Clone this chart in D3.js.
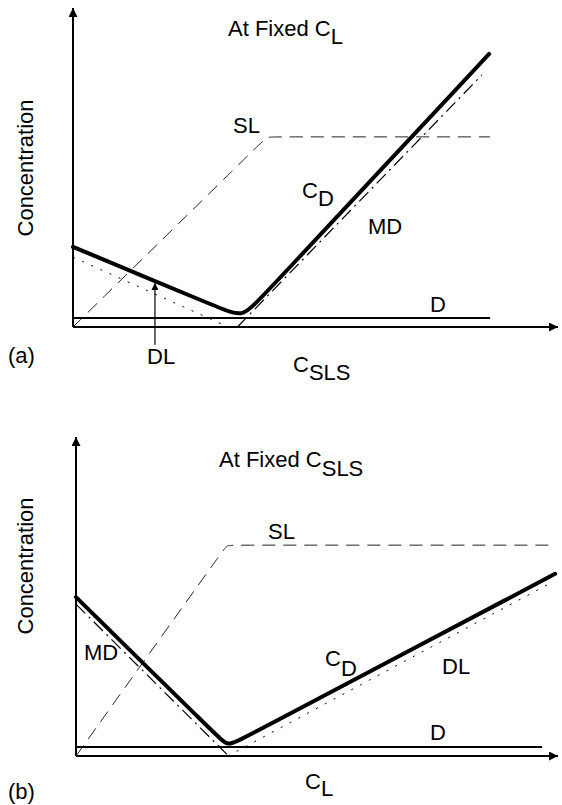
<html>
    <head>
        <title>Concentration sketch</title>
        <script src="https://d3js.org/d3.v7.min.js"></script>
    </head>

    <style>
        body {
        margin: 0;
        background: #fff;
        }

        svg {
        display: block;
        }

        text {
        font-family: Arial, 'Liberation Sans', Helvetica, sans-serif;
        font-size: 22px;
        fill: #000;
        }

        .axis {
        stroke: #000;
        stroke-width: 2;
        fill: none;
        }

        .cd {
        stroke: #000;
        stroke-width: 4;
        fill: none;
        stroke-linecap: round;
        }

        .d {
        stroke: #000;
        stroke-width: 2;
        fill: none;
        }

        .sl {
        stroke: #222;
        stroke-width: 1;
        stroke-dasharray: 13 8;
        fill: none;
        }

        .dl {
        stroke: #000;
        stroke-width: 1;
        stroke-dasharray: 2 8;
        fill: none;
        }

        .md {
        stroke: #000;
        stroke-width: 1.2;
        stroke-dasharray: 13 5 2 5;
        fill: none;
        }

        .pointer {
        stroke: #000;
        stroke-width: 1.2;
        fill: none;
        }
    </style>

    <body>
        <svg width="562" height="805"></svg>

    <script>
        // (a) at fixed C_L, curves vs C_SLS  (both axes 0..100, arbitrary units)
        const topCD = [[0, 25.1], [30.5, 5.8], [35.0, 3.0], [38.3, 8.3], [85.8, 85.6]];
        const topSL = [[0, 0], [39.0, 58.1], [40.0, 59.6], [41.6, 59.6], [86.0, 59.6]];
        const topD = [[0, 2.8], [86.0, 2.8]];
        const topDL = [[0, 21.9], [32.0, 0]];
        const topMD = [[33.9, 0], [84.3, 79.0]];
        const topPointer = [[16.9, -5.6], [16.9, 13.8]];

        // (b) at fixed C_SLS, curves vs C_L
        const botCD = [[0, 49.8], [29.5, 6.0], [31.5, 3.0], [34.4, 5.3], [99.4, 57.1]];
        const botSL = [[0, 0], [30.5, 64.4], [31.3, 66.1], [32.8, 66.1], [98.1, 66.1]];
        const botD = [[0, 2.8], [96.7, 2.8]];
        const botMD = [[0, 47.6], [32.0, -0.5]];
        const botDL = [[31.5, 0], [98.8, 54.5]];

        const svg = d3.select('svg');

        const defs = svg.append('defs');
        defs.append('marker')
        .attr('id', 'head')
        .attr('markerUnits', 'userSpaceOnUse')
        .attr('viewBox', '0 0 10 10')
        .attr('refX', 10)
        .attr('refY', 5)
        .attr('markerWidth', 11)
        .attr('markerHeight', 9)
        .attr('orient', 'auto')
        .append('path')
        .attr('d', 'M0,0L10,5L0,10Z')
        .attr('fill', '#000');

        defs.append('marker')
        .attr('id', 'smallhead')
        .attr('markerUnits', 'userSpaceOnUse')
        .attr('viewBox', '0 0 10 10')
        .attr('refX', 10)
        .attr('refY', 5)
        .attr('markerWidth', 9)
        .attr('markerHeight', 7)
        .attr('orient', 'auto')
        .append('path')
        .attr('d', 'M0,0L10,5L0,10Z')
        .attr('fill', '#000');

        function panel(xRange, yRange) {
            const x = d3.scaleLinear().domain([0, 100]).range(xRange);
            const y = d3.scaleLinear().domain([0, 100]).range(yRange);
            const g = svg.append('g');

            const line = d3.line().x(d => x(d[0])).y(d => y(d[1]));
            const smooth = d3.line().x(d => x(d[0])).y(d => y(d[1])).curve(d3.curveBasis);

            // axes with arrow heads
            g.append('path')
            .attr('class', 'axis')
            .attr('d', line([[0, 0], [0, 100]]))
            .attr('marker-end', 'url(#head)');

            g.append('path')
            .attr('class', 'axis')
            .attr('d', line([[0, 0], [100, 0]]))
            .attr('marker-end', 'url(#head)');

            return { x, y, g, line, smooth };
        }

        function label(g, px, py, main, sub, subDy) {
            const t = g.append('text')
            .attr('x', px)
            .attr('y', py);
            t.append('tspan').text(main);
            if (sub) {
                t.append('tspan').attr('dy', subDy || 8).text(sub);
            }
            return t;
        }

        // ---- panel (a)
        const a = panel([73, 558], [327, 8]);

        a.g.append('path').attr('class', 'sl').attr('d', a.smooth(topSL));
        a.g.append('path').attr('class', 'dl').attr('d', a.line(topDL));
        a.g.append('path').attr('class', 'md').attr('d', a.line(topMD));
        a.g.append('path').attr('class', 'd').attr('d', a.line(topD));
        a.g.append('path').attr('class', 'cd').attr('d', a.smooth(topCD));
        a.g.append('path')
        .attr('class', 'pointer')
        .attr('d', a.line(topPointer))
        .attr('marker-end', 'url(#smallhead)');

        label(a.g, 228, 36, 'At Fixed C', 'L');
        label(a.g, 233, 133, 'SL');
        label(a.g, 302, 198, 'C', 'D');
        label(a.g, 368, 234, 'MD');
        label(a.g, 430, 312, 'D');
        label(a.g, 147, 364, 'DL');
        label(a.g, 8, 363, '(a)');
        label(a.g, 293, 372, 'C', 'SLS');

        a.g.append('text')
        .attr('transform', 'translate(33, 168) rotate(-90)')
        .attr('text-anchor', 'middle')
        .text('Concentration');

        // ---- panel (b)
        const b = panel([76, 558], [756, 437]);

        b.g.append('path').attr('class', 'sl').attr('d', b.smooth(botSL));
        b.g.append('path').attr('class', 'dl').attr('d', b.line(botDL));
        b.g.append('path').attr('class', 'md').attr('d', b.line(botMD));
        b.g.append('path').attr('class', 'd').attr('d', b.line(botD));
        b.g.append('path').attr('class', 'cd').attr('d', b.smooth(botCD));

        label(b.g, 219, 467, 'At Fixed C', 'SLS', 9);
        label(b.g, 268, 539, 'SL');
        label(b.g, 325, 666, 'C', 'D', 10);
        label(b.g, 442, 674, 'DL');
        label(b.g, 430, 740, 'D');
        label(b.g, 84, 660, 'MD');
        label(b.g, 8, 799, '(b)');
        label(b.g, 305, 789, 'C', 'L', 7);

        b.g.append('text')
        .attr('transform', 'translate(33, 566) rotate(-90)')
        .attr('text-anchor', 'middle')
        .text('Concentration');
    </script>
    </body>
</html>
